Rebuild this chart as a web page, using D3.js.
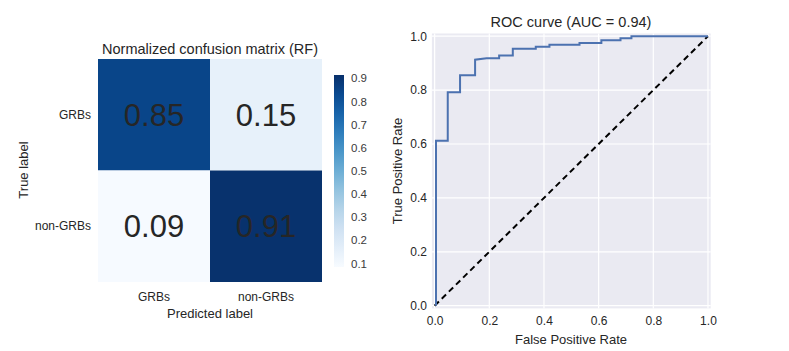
<!DOCTYPE html>
<html>
<head>
<meta charset="utf-8">
<script src="https://cdn.jsdelivr.net/npm/d3@7"></script>
<style>
  body { margin: 0; background: #fff; }
  text { font-family: "Liberation Sans", Arial, sans-serif; fill: #262626; }
</style>
</head>
<body>
<div class="canvas"></div>
<script>
// confusion matrix data
var classes = ["GRBs", "non-GRBs"];
var cmValues = [[0.85, 0.15], [0.09, 0.91]];
var cbTicks = [0.1, 0.2, 0.3, 0.4, 0.5, 0.6, 0.7, 0.8, 0.9];

// roc data
var fpr = [0.005, 0.005, 0.048, 0.048, 0.093, 0.093, 0.148, 0.148, 0.19, 0.236, 0.236, 0.286, 0.286,
           0.37, 0.37, 0.42, 0.42, 0.53, 0.53, 0.61, 0.61, 0.68, 0.68, 0.72, 0.72, 1.0];
var tpr = [0, 0.612, 0.612, 0.792, 0.792, 0.855, 0.855, 0.913, 0.918, 0.918, 0.928, 0.928, 0.953,
           0.953, 0.961, 0.961, 0.968, 0.968, 0.975, 0.975, 0.985, 0.985, 0.992, 0.992, 1.0, 1.0];
var rocTicks = [0, 0.2, 0.4, 0.6, 0.8, 1.0];
var aucTitle = "ROC curve (AUC = 0.94)";

var svg = d3.select(".canvas")
			.append("svg")
			.attr("width", 789)
			.attr("height", 351);

svg.append("rect").attr("width", 789).attr("height", 351).attr("fill", "#fff");

// ---------- CONFUSION MATRIX ----------

var cm = svg.append("g");

var cx = d3.scaleBand().domain(classes).range([98, 322]);
var cy = d3.scaleBand().domain(classes).range([59, 282]);
var color = d3.scaleSequential(d3.interpolateBlues).domain([0.085, 0.915]);

var cells = [];
cmValues.forEach(function(row, i){
	row.forEach(function(v, j){
		cells.push({t: classes[i], p: classes[j], v: v});
	});
});

cm.selectAll("rect.cell")
	.data(cells)
	.enter()
	.append("rect")
	.attr("class", "cell")
	.attr("x", function(d){ return cx(d.p); })
	.attr("y", function(d){ return cy(d.t); })
	.attr("width", cx.bandwidth())
	.attr("height", cy.bandwidth())
	.attr("fill", function(d){ return color(d.v); });

cm.selectAll("text.val")
	.data(cells)
	.enter()
	.append("text")
	.attr("class", "val")
	.attr("x", function(d){ return cx(d.p) + cx.bandwidth() / 2; })
	.attr("y", function(d){ return cy(d.t) + cy.bandwidth() / 2; })
	.attr("dy", "0.36em")
	.attr("text-anchor", "middle")
	.style("font-size", "31px")
	.style("fill", "#262626")
	.text(function(d){ return d3.format(".2f")(d.v); });

// tick labels
cm.selectAll("text.ylab")
	.data(classes)
	.enter()
	.append("text")
	.attr("x", 91)
	.attr("y", function(d){ return cy(d) + cy.bandwidth() / 2; })
	.attr("dy", "0.35em")
	.attr("text-anchor", "end")
	.style("font-size", "12px")
	.text(function(d){ return d; });

cm.selectAll("text.xlab")
	.data(classes)
	.enter()
	.append("text")
	.attr("x", function(d){ return cx(d) + cx.bandwidth() / 2; })
	.attr("y", 297)
	.attr("dy", "0.35em")
	.attr("text-anchor", "middle")
	.style("font-size", "12px")
	.text(function(d){ return d; });

cm.append("text")
	.attr("x", 210).attr("y", 54)
	.attr("text-anchor", "middle")
	.style("font-size", "14.5px")
	.text("Normalized confusion matrix (RF)");

cm.append("text")
	.attr("x", 210).attr("y", 313)
	.attr("dy", "0.35em")
	.attr("text-anchor", "middle")
	.style("font-size", "13px")
	.text("Predicted label");

cm.append("text")
	.attr("transform", "translate(23,170) rotate(-90)")
	.attr("dy", "0.35em")
	.attr("text-anchor", "middle")
	.style("font-size", "13px")
	.text("True label");

// colorbar
var cbY = d3.scaleLinear().domain(color.domain()).range([267, 75]);
var defs = svg.append("defs");
var grad = defs.append("linearGradient")
	.attr("id", "cbgrad")
	.attr("x1", 0).attr("y1", 1).attr("x2", 0).attr("y2", 0);
d3.range(0, 1.0001, 0.1).forEach(function(t){
	grad.append("stop")
		.attr("offset", t)
		.attr("stop-color", d3.interpolateBlues(t));
});
cm.append("rect")
	.attr("x", 334).attr("y", cbY(0.915))
	.attr("width", 10)
	.attr("height", cbY(0.085) - cbY(0.915))
	.attr("fill", "url(#cbgrad)");

cm.selectAll("text.cb")
	.data(cbTicks)
	.enter()
	.append("text")
	.attr("x", 351)
	.attr("y", function(d){ return cbY(d); })
	.attr("dy", "0.35em")
	.style("font-size", "11.5px")
	.style("fill", "#3a3a3a")
	.text(function(d){ return d3.format(".1f")(d); });

// ---------- ROC CURVE ----------

var roc = svg.append("g");

var x = d3.scaleLinear().domain([-0.01, 1.01]).range([431.9, 710.7]);
var y = d3.scaleLinear().domain([-0.01, 1.01]).range([308.4, 33.5]);

roc.append("rect")
	.attr("x", x(-0.01)).attr("y", y(1.01))
	.attr("width", x(1.01) - x(-0.01))
	.attr("height", y(-0.01) - y(1.01))
	.attr("fill", "#eaeaf2");

roc.selectAll("line.gx")
	.data(rocTicks)
	.enter()
	.append("line")
	.attr("x1", function(d){ return x(d); })
	.attr("x2", function(d){ return x(d); })
	.attr("y1", y(-0.01)).attr("y2", y(1.01))
	.attr("stroke", "#fff").attr("stroke-width", 1.2);

roc.selectAll("line.gy")
	.data(rocTicks)
	.enter()
	.append("line")
	.attr("y1", function(d){ return y(d); })
	.attr("y2", function(d){ return y(d); })
	.attr("x1", x(-0.01)).attr("x2", x(1.01))
	.attr("stroke", "#fff").attr("stroke-width", 1.2);

var xAxis = roc.append("g")
	.attr("transform", "translate(0," + y(-0.01) + ")")
	.call(d3.axisBottom(x).tickValues(rocTicks).tickFormat(d3.format(".1f")).tickSize(0).tickPadding(8));
var yAxis = roc.append("g")
	.attr("transform", "translate(" + x(-0.01) + ",0)")
	.call(d3.axisLeft(y).tickValues(rocTicks).tickFormat(d3.format(".1f")).tickSize(0).tickPadding(5));
[xAxis, yAxis].forEach(function(a){
	a.select(".domain").remove();
	a.selectAll("text")
		.style("font-family", "Liberation Sans, Arial, sans-serif")
		.style("font-size", "12px")
		.style("fill", "#262626");
});

roc.append("line")
	.attr("x1", x(0)).attr("y1", y(0))
	.attr("x2", x(1)).attr("y2", y(1))
	.attr("stroke", "#000")
	.attr("stroke-width", 2)
	.attr("stroke-dasharray", "6,4");

var pts = fpr.map(function(f, i){ return [f, tpr[i]]; });
roc.append("path")
	.datum(pts)
	.attr("fill", "none")
	.attr("stroke", "#4c72b0")
	.attr("stroke-width", 2)
	.attr("d", d3.line().x(function(d){ return x(d[0]); }).y(function(d){ return y(d[1]); }));

roc.append("text")
	.attr("x", 571).attr("y", 27)
	.attr("text-anchor", "middle")
	.style("font-size", "14.5px")
	.text(aucTitle);

roc.append("text")
	.attr("x", 571).attr("y", 339)
	.attr("dy", "0.35em")
	.attr("text-anchor", "middle")
	.style("font-size", "13px")
	.text("False Positive Rate");

roc.append("text")
	.attr("transform", "translate(397,171) rotate(-90)")
	.attr("dy", "0.35em")
	.attr("text-anchor", "middle")
	.style("font-size", "13px")
	.text("True Positive Rate");
</script>
</body>
</html>
